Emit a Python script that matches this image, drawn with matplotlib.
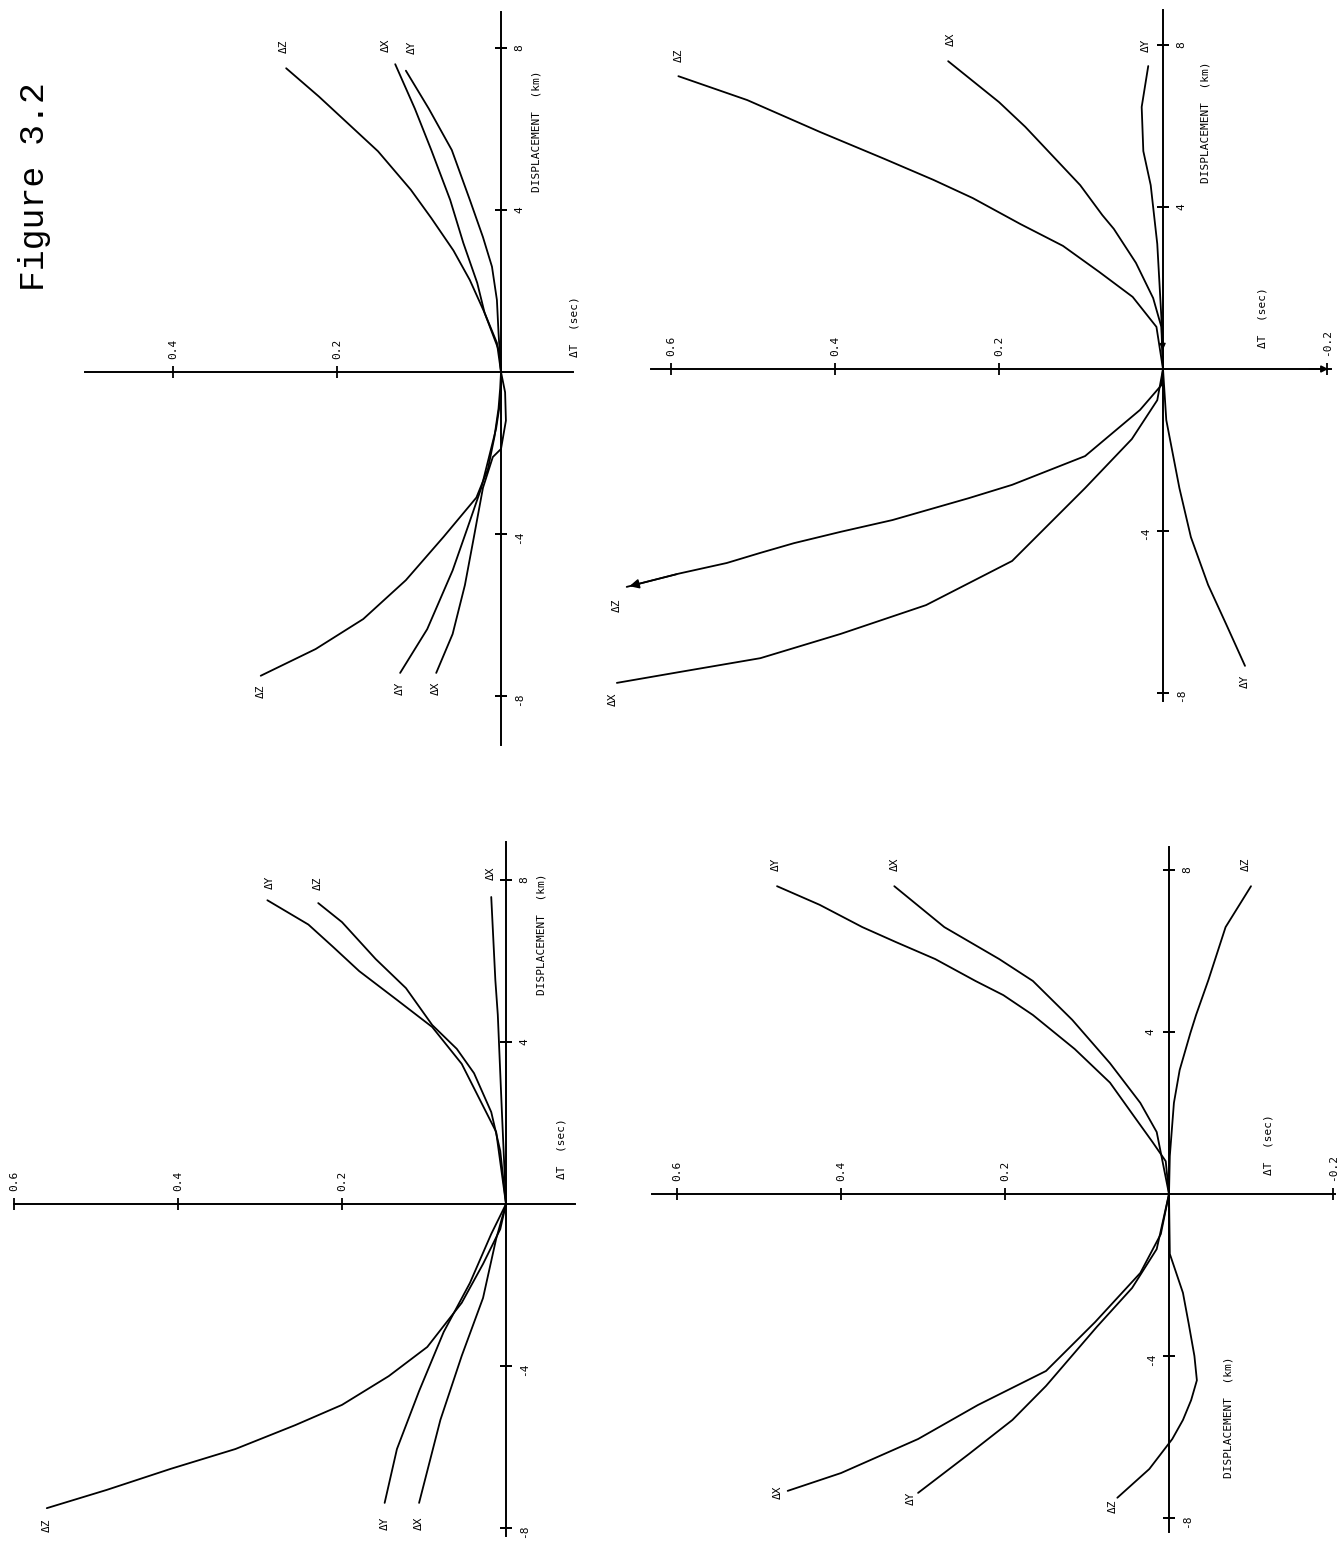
import matplotlib.pyplot as plt

plt.rcParams['font.family'] = ['DejaVu Sans Mono']

W, H = 1340, 1542
PX_PER_SEC = 820.0   # horizontal pixels per second of delta-T
PX_PER_KM = 40.5     # vertical pixels per km of displacement

KM_TICKS = [-8, -4, 4, 8]

# ---- panel A (upper left) : displacement (km) vs delta-T (sec) ----
A_DZ_KM = [-7.5, -6.84, -6.1, -5.14, -4.07, -3.1, -2.4, -1.6, -0.9, -0.4, 0,
           0.5, 1.46, 2.27, 3.0, 3.8, 4.5, 5.45, 6.05, 6.8, 7.5]
A_DZ_DT = [0.293, 0.226, 0.168, 0.116, 0.070, 0.030, 0.016, 0.008, 0.003, 0.001, 0,
           0.002, 0.020, 0.038, 0.058, 0.085, 0.110, 0.150, 0.182, 0.222, 0.262]
A_DX_KM = [-7.43, -6.47, -5.26, -4.07, -2.86, -2.1, -1.9, -1.2, -0.5, 0,
           0.72, 1.46, 2.2, 3.19, 4.25, 5.48, 6.5, 7.6]
A_DX_DT = [0.079, 0.059, 0.044, 0.033, 0.022, 0.010, 0.0, -0.006, -0.005, 0,
           0.005, 0.020, 0.029, 0.046, 0.062, 0.085, 0.105, 0.129]
A_DY_KM = [-7.43, -6.35, -4.9, -3.8, -2.86, -1.4, -0.6, 0,
           0.96, 1.78, 2.6, 3.33, 4.25, 5.48, 6.5, 7.44]
A_DY_DT = [0.123, 0.090, 0.059, 0.040, 0.024, 0.006, 0.0, 0,
           0.003, 0.005, 0.011, 0.022, 0.038, 0.060, 0.088, 0.116]

# ---- panel B (upper right) ----
B_DZ_KM = [-5.38, -5.05, -4.79, -4.54, -4.3, -4.02, -3.73, -3.19, -2.86, -2.15, -1.01, -0.4, 0,
           1.04, 1.78, 2.4, 3.04, 3.58, 4.22, 4.67, 5.19, 5.85, 6.64, 7.23]
B_DZ_DT = [0.654, 0.590, 0.532, 0.491, 0.450, 0.393, 0.330, 0.237, 0.184, 0.095, 0.028, 0.002, 0,
           0.008, 0.037, 0.078, 0.122, 0.174, 0.232, 0.280, 0.340, 0.418, 0.507, 0.591]
B_DX_KM = [-7.75, -7.48, -7.14, -6.54, -5.83, -4.74, -2.94, -1.73, -0.77, 0,
           1.04, 1.75, 2.62, 3.46, 3.8, 4.54, 5.98, 6.59, 7.6]
B_DX_DT = [0.666, 0.589, 0.491, 0.393, 0.289, 0.184, 0.095, 0.038, 0.007, 0,
           0.002, 0.012, 0.033, 0.060, 0.074, 0.101, 0.168, 0.200, 0.262]
B_DY_KM = [-7.33, -6.30, -5.33, -4.15, -2.94, -1.26, 0,
           1.28, 3.09, 4.54, 5.38, 6.47, 7.48]
B_DY_DT = [-0.100, -0.077, -0.055, -0.034, -0.020, -0.004, 0,
           0.002, 0.007, 0.015, 0.024, 0.026, 0.018]

# ---- panel C (lower left) ----
C_DZ_KM = [-7.51, -7.06, -6.54, -6.05, -5.46, -4.96, -4.25, -3.53, -2.44, -1.48, -0.62, 0,
           1.31, 2.27, 3.23, 3.83, 4.42, 5.33, 6.05, 6.96, 7.43]
C_DZ_DT = [0.560, 0.487, 0.409, 0.330, 0.257, 0.200, 0.143, 0.096, 0.054, 0.028, 0.007, 0,
           0.007, 0.018, 0.039, 0.060, 0.090, 0.122, 0.159, 0.200, 0.229]
C_DY_KM = [-7.38, -6.05, -4.62, -3.16, -1.95, -0.74, 0,
           1.78, 2.62, 3.46, 4.37, 5.04, 5.75, 6.35, 6.9, 7.5]
C_DY_DT = [0.148, 0.133, 0.106, 0.076, 0.044, 0.018, 0,
           0.012, 0.033, 0.054, 0.090, 0.133, 0.179, 0.211, 0.241, 0.291]
C_DX_KM = [-7.38, -5.33, -3.75, -2.32, -0.86, 0, 2.27, 4.67, 5.53, 7.58]
C_DX_DT = [0.106, 0.080, 0.054, 0.028, 0.012, 0, 0.005, 0.010, 0.013, 0.018]

# ---- panel D (lower right) ----
D_DZ_KM = [-7.5, -6.79, -6.05, -5.58, -5.09, -4.6, -4.0, -3.2, -2.44, -1.48, 0,
           0.94, 2.25, 3.06, 3.97, 4.42, 5.28, 6.59, 7.6]
D_DZ_DT = [0.063, 0.024, -0.004, -0.017, -0.027, -0.034, -0.031, -0.024, -0.017, -0.001, 0,
           -0.001, -0.006, -0.013, -0.026, -0.033, -0.048, -0.069, -0.100]
D_DX_KM = [-7.33, -6.89, -6.05, -5.21, -4.37, -3.16, -1.95, -0.99, 0,
           1.53, 2.25, 3.23, 4.3, 5.26, 5.8, 6.59, 7.6]
D_DX_DT = [0.465, 0.400, 0.306, 0.233, 0.150, 0.090, 0.035, 0.010, 0,
           0.015, 0.035, 0.072, 0.118, 0.166, 0.207, 0.274, 0.335]
D_DY_KM = [-7.38, -6.42, -5.58, -4.74, -3.28, -2.32, -1.36, 0,
           0.81, 1.28, 1.9, 2.75, 3.58, 4.42, 4.91, 5.26, 5.8, 6.22, 6.59, 7.14, 7.6]
D_DY_DT = [0.306, 0.244, 0.191, 0.150, 0.088, 0.045, 0.015, 0,
           0.004, 0.020, 0.042, 0.072, 0.115, 0.166, 0.202, 0.236, 0.285, 0.333, 0.374, 0.426, 0.478]

# layout of each panel on the page (pixels) and its decorations
panels = [
    dict(origin=(501, 372), box=(0, 0, 670, 771),
         dt_span=(0.507, -0.088), km_span=(-9.2, 8.9),
         dt_ticks=[0.4, 0.2], km_sides=['right', 'right', 'right', 'right'],
         dt_label=(-0.09, 1.11), km_label=(-0.043, 5.95), axis_arrow=False,
         curves=[('ΔZ', A_DZ_DT, A_DZ_KM, (0, -11), (-2, 16)),
                 ('ΔX', A_DX_DT, A_DX_KM, (0, -11), (-7, 14)),
                 ('ΔY', A_DY_DT, A_DY_KM, (0, -11), (4, 17))]),
    dict(origin=(1163, 369), box=(670, 0, 1340, 771),
         dt_span=(0.625, -0.205), km_span=(-8.2, 8.86),
         dt_ticks=[0.6, 0.4, 0.2, -0.2], km_sides=['right', 'left', 'right', 'right'],
         dt_label=(-0.121, 1.28), km_label=(-0.052, 6.1), axis_arrow=True,
         curves=[('ΔZ', B_DZ_DT, B_DZ_KM, (-7, -13), (0, 15)),
                 ('ΔX', B_DX_DT, B_DX_KM, (-3, -12), (2, 16)),
                 ('ΔY', B_DY_DT, B_DY_KM, (0, -11), (-2, 15))]),
    dict(origin=(506, 1204), box=(0, 771, 670, 1542),
         dt_span=(0.6, -0.084), km_span=(-8.2, 8.94),
         dt_ticks=[0.6, 0.4, 0.2], km_sides=['right', 'right', 'right', 'right'],
         dt_label=(-0.068, 1.36), km_label=(-0.043, 6.67), axis_arrow=False,
         curves=[('ΔZ', C_DZ_DT, C_DZ_KM, (0, -12), (0, 14)),
                 ('ΔY', C_DY_DT, C_DY_KM, (0, -15), (2, 13)),
                 ('ΔX', C_DX_DT, C_DX_KM, (0, -15), (0, 17))]),
    dict(origin=(1169, 1194), box=(670, 771, 1340, 1542),
         dt_span=(0.63, -0.202), km_span=(-8.35, 8.57),
         dt_ticks=[0.6, 0.4, 0.2, -0.2], km_sides=['right', 'left', 'left', 'right'],
         dt_label=(-0.121, 1.23), km_label=(-0.072, -5.5), axis_arrow=False,
         curves=[('ΔZ', D_DZ_DT, D_DZ_KM, (-3, -6), (-4, 16)),
                 ('ΔX', D_DX_DT, D_DX_KM, (-7, -1), (0, 16)),
                 ('ΔY', D_DY_DT, D_DY_KM, (-5, -4), (-1, 16))]),
]

fig = plt.figure(figsize=(W / 100, H / 100), dpi=100)
fig.text(35 / W, 1 - 187 / H, 'Figure 3.2', rotation=90, family='Liberation Mono',
         fontsize=25, ha='center', va='center')

for p in panels:
    x0, y0 = p['origin']
    left, top, right, bottom = p['box']
    ax = fig.add_axes([left / W, 1 - bottom / H, (right - left) / W, (bottom - top) / H])
    ax.patch.set_visible(False)
    # delta-T grows to the left, displacement grows upward
    ax.set_xlim((x0 - left) / PX_PER_SEC, (x0 - right) / PX_PER_SEC)
    ax.set_ylim((y0 - bottom) / PX_PER_KM, (y0 - top) / PX_PER_KM)

    ax.spines['bottom'].set_visible(False)
    ax.spines['right'].set_visible(False)
    for s in ('top', 'left', 'right'):
        ax.spines[s].set_position(('data', 0))
        ax.spines[s].set_linewidth(1.4)
    ax.spines['top'].set_bounds(*p['dt_span'])
    ax.spines['left'].set_bounds(*p['km_span'])

    ax.xaxis.set_ticks_position('top')
    ax.set_xticks(p['dt_ticks'])
    ax.set_xticklabels([f'{v:.1f}' for v in p['dt_ticks']])
    ax.tick_params(axis='x', direction='inout', length=9, width=1.3, pad=5,
                   labelsize=8, labelrotation=90)

    ax.yaxis.set_ticks_position('both')
    ax.set_yticks(KM_TICKS)
    ax.set_yticklabels([str(v) for v in KM_TICKS])
    ax.tick_params(axis='y', direction='inout', length=9, width=1.3, pad=5,
                   labelsize=8, labelrotation=90, labelleft=True, labelright=True)
    for tick, side in zip(ax.yaxis.get_major_ticks(), p['km_sides']):
        tick.label1.set_visible(side == 'left')
        tick.label2.set_visible(side == 'right')

    if p['axis_arrow']:
        lo = p['dt_span'][1]
        ax.annotate('', xy=(lo, 0), xytext=(lo + 0.03, 0), annotation_clip=False,
                    arrowprops=dict(arrowstyle='-|>', color='k', lw=1.2, mutation_scale=10))

    for name, dt, km, off_lo, off_hi in p['curves']:
        ax.plot(dt, km, color='k', lw=1.3, clip_on=False, solid_capstyle='round')
        ax.annotate(name, xy=(dt[0], km[0]), xytext=off_lo, textcoords='offset points',
                    rotation=90, ha='center', va='center', fontsize=8,
                    annotation_clip=False)
        ax.annotate(name, xy=(dt[-1], km[-1]), xytext=off_hi, textcoords='offset points',
                    rotation=90, ha='center', va='center', fontsize=8,
                    annotation_clip=False)

    ax.text(*p['dt_label'], 'ΔT  (sec)', rotation=90, ha='center', va='center', fontsize=8)
    ax.text(*p['km_label'], 'DISPLACEMENT  (km)', rotation=90, ha='center', va='center',
            fontsize=8)

# arrow heads drawn on the upper-right panel
axB = fig.axes[1]
axB.annotate('', xy=(B_DZ_DT[0], B_DZ_KM[0]), xytext=(B_DZ_DT[1], B_DZ_KM[1]),
             annotation_clip=False,
             arrowprops=dict(arrowstyle='-|>', color='k', lw=1.2, mutation_scale=14))
axB.annotate('', xy=(B_DY_DT[6], B_DY_KM[6] + 0.4), xytext=(B_DY_DT[7], B_DY_KM[7]),
             annotation_clip=False,
             arrowprops=dict(arrowstyle='-|>', color='k', lw=1.0, mutation_scale=9))

fig.savefig('out.png', dpi=100)
